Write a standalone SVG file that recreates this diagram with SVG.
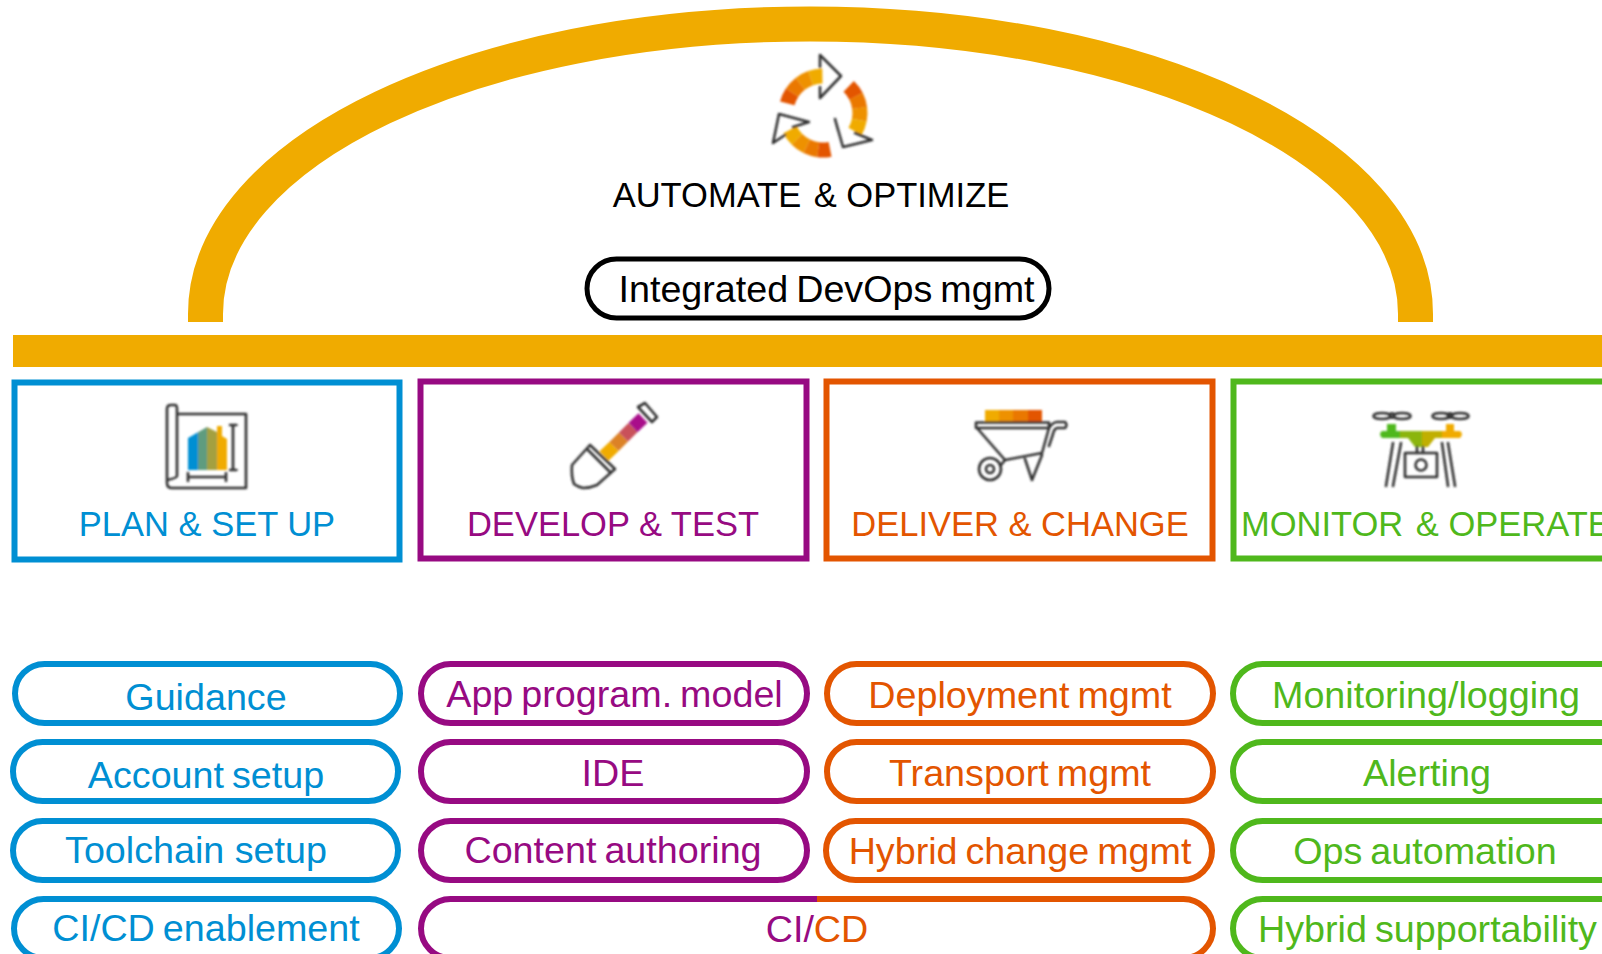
<svg xmlns="http://www.w3.org/2000/svg" width="1602" height="954" viewBox="0 0 1602 954">
<style>
text{font-family:"Liberation Sans",Arial,sans-serif;text-anchor:middle}
.h{font-size:34.500px}
.p{font-size:37.700px;word-spacing:-2.500px}
.bl{fill:#008fd3}.pu{fill:#970a82}.or{fill:#e35500}.gr{fill:#4fb81c}.bk{fill:#000}
.pill,.box{fill:#fff;stroke-width:6}
.sb{stroke:#008fd3}.sp{stroke:#970a82}.so{stroke:#e35500}.sg{stroke:#4fb81c}
.ic{fill:none;stroke:#333;stroke-width:2.600;stroke-linejoin:round;stroke-linecap:round}
.soft{filter:url(#soft)}
.a{fill:none;stroke-width:15}
.c1{stroke:#f0ab00}.c2{stroke:#ee9100}.c3{stroke:#ea7800}.c4{stroke:#e35500}
</style>
<defs>
<filter id="soft" x="-20%" y="-20%" width="140%" height="140%"><feGaussianBlur stdDeviation="0.800"/></filter>
<linearGradient id="gBuild" x1="0" x2="1" y1="0" y2="0"><stop offset="0" stop-color="#008fd3"/><stop offset=".25" stop-color="#008fd3"/><stop offset=".25" stop-color="#5e9c7f"/><stop offset=".5" stop-color="#5e9c7f"/><stop offset=".5" stop-color="#a4a03f"/><stop offset=".75" stop-color="#a4a03f"/><stop offset=".75" stop-color="#f0ab00"/><stop offset="1" stop-color="#f0ab00"/></linearGradient>
<linearGradient id="gBarrow" x1="0" x2="1" y1="0" y2="0"><stop offset="0" stop-color="#f0ab00"/><stop offset=".25" stop-color="#f0ab00"/><stop offset=".25" stop-color="#ee9100"/><stop offset=".5" stop-color="#ee9100"/><stop offset=".5" stop-color="#ea7800"/><stop offset=".75" stop-color="#ea7800"/><stop offset=".75" stop-color="#e35500"/><stop offset="1" stop-color="#e35500"/></linearGradient>
<linearGradient id="gDrone" gradientUnits="userSpaceOnUse" x1="1379" x2="1462" y1="0" y2="0"><stop offset="0" stop-color="#4fb81c"/><stop offset=".25" stop-color="#4fb81c"/><stop offset=".25" stop-color="#8bb50c"/><stop offset=".52" stop-color="#8bb50c"/><stop offset=".52" stop-color="#c0af00"/><stop offset=".76" stop-color="#c0af00"/><stop offset=".76" stop-color="#f0ab00"/><stop offset="1" stop-color="#f0ab00"/></linearGradient>
</defs>
<g id="arch"><path d="M205.500 322V314C205.500 150 476 24 810 24S1415.500 150 1415.500 314V322" fill="none" stroke="#f0ab00" stroke-width="35"/></g>
<g id="bar"><rect x="13" y="335" width="1589" height="32" fill="#f0ab00"/></g>
<g id="automate">
<g class="soft">
<path class="a c1" d="M822.400 76A37 37 0 0 0 810.600 78.100"/>
<path class="a c2" d="M810.600 78.100A37 37 0 0 0 800.200 83.800"/>
<path class="a c3" d="M800.200 83.800A37 37 0 0 0 792.100 92.600"/>
<path class="a c4" d="M792.100 92.600A37 37 0 0 0 787.300 103.400"/>
<path class="a c4" d="M848.700 86.400A37 37 0 0 1 856 96.200"/>
<path class="a c3" d="M856 96.200A37 37 0 0 1 859.600 107.900"/>
<path class="a c2" d="M859.600 107.900A37 37 0 0 1 859.300 120.100"/>
<path class="a c1" d="M859.300 120.100A37 37 0 0 1 855 131.500"/>
<path class="a c1" d="M790 129.800A37 37 0 0 0 797.100 139.400"/>
<path class="a c2" d="M797.100 139.400A37 37 0 0 0 806.800 146.300"/>
<path class="a c3" d="M806.800 146.300A37 37 0 0 0 818.200 149.700"/>
<path class="a c4" d="M818.200 149.700A37 37 0 0 0 830.100 149.300"/>
<path class="ic" d="M820 67V55L841 76L820 98V87"/>
<path class="ic" d="M793 127L809 122L779 114L773 143L785 135"/>
<path class="ic" d="M838 130L835 119L843 147L872 140L855 133"/>
</g>
<text x="811" y="207" class="bk h">AUTOMATE<tspan dx="3"> &amp; OPTIMIZE</tspan></text>
</g>
<g id="integrated"><rect x="587" y="259" width="462" height="59" rx="29.500" fill="#fff" stroke="#000" stroke-width="5"/><text x="826.500" y="302" class="bk p">Integrated DevOps mgmt</text></g>

<g id="plan"><rect class="box sb" x="14.500" y="382.500" width="385" height="177"/>
<g class="soft">
<path fill="url(#gBuild)" d="M188 438L207 427L217 432V426H222V436L227 439V470H188Z"/>
<g class="ic"><path d="M177 414H246V488H172Q167 488 167 483V409Q167 405 171 405H175Q177 405 177 409V476Q177 478 167 480"/><path d="M230 425H236.500M233 425V470M230 470H236.500M188 473V481M226 473V481M188 477H226"/></g>
</g>
<text x="207" y="536" class="bl h">PLAN &amp; SET UP</text></g>
<g id="develop"><rect class="box sp" x="420.500" y="381.500" width="386" height="177"/>
<g class="soft">
<g stroke-width="13" fill="none"><path d="M604 456L614 446.500" stroke="#f0ab00"/><path d="M614 446.500L623.500 437" stroke="#dc8228"/><path d="M623.500 437L633 427.500" stroke="#c9515a"/><path d="M633 427.500L643 418" stroke="#a9108a"/></g>
<g class="ic"><path d="M590 445L615 469L597 485Q590 488 583 488Q578 487 574 484Q571 476 572 465Z"/><path d="M588 450L610 472"/><path d="M638 407L645 403L657 417L652 422Z"/></g>
</g>
<text x="613" y="536" class="pu h">DEVELOP &amp; TEST</text></g>
<g id="deliver"><rect class="box so" x="826.500" y="381.500" width="386" height="177"/>
<g class="soft">
<rect x="985" y="410" width="57" height="12" fill="url(#gBarrow)"/>
<g class="ic"><path d="M976 422.500H1049V428H976ZM977 428L1005 460M1049 428L1042 453L1005 460M1025 459L1032 480L1042 455M1049 428Q1053 422 1057 422H1065Q1068 425 1065 428H1057Q1054 429 1053 434L1049 446"/><circle cx="990" cy="469" r="11"/><circle cx="990" cy="469" r="4"/><path d="M1001 465L1005 460"/></g>
</g>
<text x="1020" y="536" class="or h">DELIVER &amp; CHANGE</text></g>
<g id="monitor"><path class="box sg" d="M1602 381.500H1233.500V558.500H1602"/>
<g class="soft">
<path fill="url(#gDrone)" d="M1382 431H1387V424H1396V431H1446V424H1454V431H1460Q1464 434 1460 438H1435L1428 447H1415L1408 438H1382Q1378 434 1382 431Z"/>
<g class="ic"><ellipse cx="1382" cy="416" rx="8.500" ry="3"/><ellipse cx="1402" cy="416" rx="8.500" ry="3"/><ellipse cx="1441" cy="416" rx="8.500" ry="3"/><ellipse cx="1460" cy="416" rx="8.500" ry="3"/><circle cx="1392" cy="415.500" r="2.200"/><circle cx="1450" cy="415.500" r="2.200"/>
<path d="M1393 443L1386 486M1401 443L1393 486M1442 443L1448 486M1448 443L1455 486M1417 447V453M1423 447V453"/><rect x="1405" y="453" width="32" height="24"/><circle cx="1421" cy="465" r="5.500"/></g>
</g>
<text x="1241" y="536" class="gr h" style="text-anchor:start">MONITOR<tspan dx="3"> &amp; OPERATE</tspan></text></g>

<g id="guidance"><rect class="pill sb" x="15" y="664" width="385" height="59" rx="29.500"/><text x="206" y="710" class="bl p">Guidance</text></g>
<g id="account"><rect class="pill sb" x="13" y="742" width="385" height="59" rx="29.500"/><text x="206" y="788" class="bl p">Account setup</text></g>
<g id="toolchain"><rect class="pill sb" x="13" y="821" width="385" height="59" rx="29.500"/><text x="196" y="863" class="bl p" style="word-spacing:0">Toolchain setup</text></g>
<g id="cicd-enable"><rect class="pill sb" x="14" y="899" width="385" height="59" rx="29.500"/><text x="206" y="941" class="bl p">CI/CD enablement</text></g>

<g id="app"><rect class="pill sp" x="421" y="664" width="386" height="59" rx="29.500"/><text x="614.500" y="707" class="pu p">App program. model</text></g>
<g id="ide"><rect class="pill sp" x="421" y="742" width="386" height="59" rx="29.500"/><text x="613" y="786" class="pu p">IDE</text></g>
<g id="content"><rect class="pill sp" x="421" y="821" width="386" height="59" rx="29.500"/><text x="613" y="863" class="pu p">Content authoring</text></g>

<g id="deployment"><rect class="pill so" x="827" y="664" width="386" height="59" rx="29.500"/><text x="1020" y="708" class="or p">Deployment mgmt</text></g>
<g id="transport"><rect class="pill so" x="827" y="742" width="386" height="59" rx="29.500"/><text x="1020" y="786" class="or p">Transport mgmt</text></g>
<g id="hybrid-change"><rect class="pill so" x="826" y="821" width="386" height="59" rx="29.500"/><text x="1020" y="864" class="or p">Hybrid change mgmt</text></g>

<g id="cicd"><path d="M817 899H450.500A29.500 29.500 0 0 0 421 928.500A29.500 29.500 0 0 0 450.500 958H817" fill="#fff" stroke="#970a82" stroke-width="6"/><path d="M817 899H1183.500A29.500 29.500 0 0 1 1213 928.500A29.500 29.500 0 0 1 1183.500 958H817" fill="#fff" stroke="#e35500" stroke-width="6"/><text x="817" y="942" class="p"><tspan class="pu">CI/</tspan><tspan class="or">CD</tspan></text></g>

<g id="monitoring"><rect class="pill sg" x="1233" y="664" width="400" height="59" rx="29.500"/><text x="1426" y="708" class="gr p">Monitoring/logging</text></g>
<g id="alerting"><rect class="pill sg" x="1233" y="742" width="400" height="59" rx="29.500"/><text x="1427" y="786" class="gr p">Alerting</text></g>
<g id="ops"><rect class="pill sg" x="1233" y="821" width="400" height="59" rx="29.500"/><text x="1425" y="864" class="gr p">Ops automation</text></g>
<g id="hybrid-support"><rect class="pill sg" x="1233" y="899" width="400" height="59" rx="29.500"/><text x="1427.500" y="942" class="gr p">Hybrid supportability</text></g>
<g id="connectors"></g>
</svg>
